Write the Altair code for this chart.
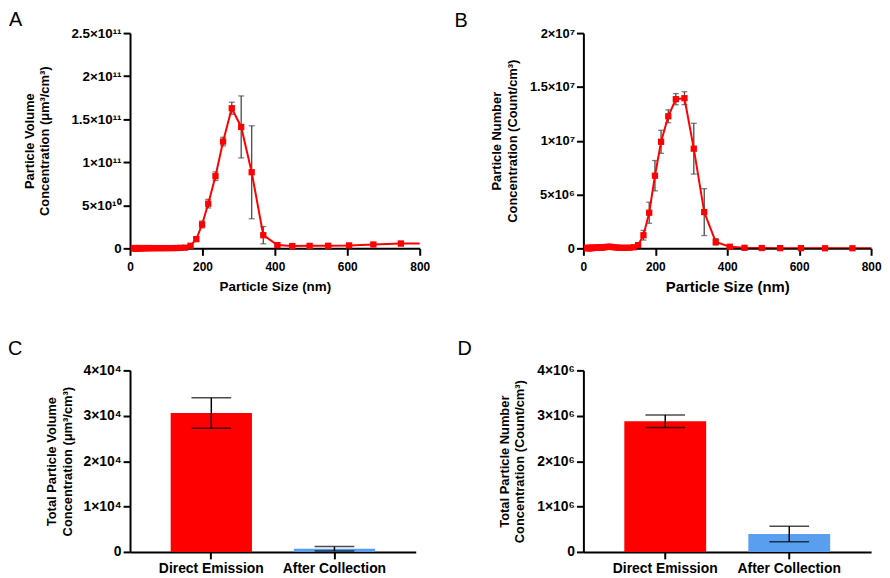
import altair as alt
import pandas as pd

# ---------------- data ----------------
sizes_nm = [10.5, 11.5, 12.5, 13.6, 14.8, 16.2, 17.6, 19.2, 20.9, 22.8, 24.9, 27.1,
            29.6, 32.2, 35.1, 38.3, 41.7, 45.5, 49.6, 54.0, 58.9, 64.2, 70.0, 76.3,
            83.2, 90.7, 98.8, 107.7, 117.4, 128.0, 139.5,
            152, 167, 183, 199, 216, 236, 257, 281, 307, 336, 368, 407, 448, 496,
            547, 605, 672, 748, 830]

volume_conc = [2e8, 2e8, 3e8, 3e8, 3e8, 2e8, 2e8, 2e8, 3e8, 3e8, 3e8, 3e8,
               2e8, 2e8, 2e8, 3e8, 3e8, 3e8, 3e8, 3e8, 3e8, 3e8, 3e8, 3e8,
               3e8, 3e8, 3e8, 3e8, 3e8, 4e8, 6e8,
               8e8, 3.0e9, 1.07e10, 2.77e10, 5.19e10, 8.38e10, 1.24e11, 1.627e11,
               1.41e11, 8.84e10, 1.53e10, 3.8e9, 2.7e9, 2.9e9, 3.0e9, 3.4e9, 4.5e9,
               5.6e9, 5.7e9]
volume_sd = [0] * 31 + [3e8, 1e9, 2e9, 4e9, 5e9, 5e9, 5e9, 7e9, 3.6e10, 5.4e10,
                        1e10, 1e9, 1e9, 1e9, 1e9, 1e9, 1e9, 2.5e9, 0]

number_conc = [3e4, 3e4, 3e4, 3e4, 3e4, 3e4, 3e4, 3e4, 3e4, 4e4, 4e4, 4e4,
               4e4, 5e4, 5e4, 6e4, 6e4, 7e4, 8e4, 9e4, 1.1e5, 1.3e5, 1.5e5, 1.4e5,
               1.1e5, 8e4, 6e4, 5e4, 5e4, 6e4, 1e5,
               3e5, 1.22e6, 3.31e6, 6.75e6, 9.9e6, 1.227e7, 1.386e7, 1.395e7,
               9.26e6, 3.37e6, 6e5, 1.5e5, 5e4, 3e4, 2e4, 2e4, 1e4, 1e4, 1e4]
number_sd = [0] * 31 + [1.5e5, 4.5e5, 9.8e5, 1.41e6, 1.07e6, 6e5, 5.2e5, 6e5, 2.36e6,
                        2.18e6, 3e5, 5e4, 0, 0, 0, 0, 0, 0, 0]

groups = ["Direct Emission", "After Collection"]
total_volume = [3.06e4, 700]
total_volume_sd = [3.35e3, 480]
total_number = [2.877e6, 3.94e5]
total_number_sd = [1.38e5, 1.7e5]

x_ticks = [0, 200, 400, 600, 800]
vol_ticks = [0, 5e10, 1e11, 1.5e11, 2e11, 2.5e11]
vol_labels = ["0", "5×10¹⁰", "1×10¹¹", "1.5×10¹¹", "2×10¹¹", "2.5×10¹¹"]
num_ticks = [0, 5e6, 1e7, 1.5e7, 2e7]
num_labels = ["0", "5×10⁶", "1×10⁷", "1.5×10⁷", "2×10⁷"]
tvol_ticks = [0, 1e4, 2e4, 3e4, 4e4]
tvol_labels = ["0", "1×10⁴", "2×10⁴", "3×10⁴", "4×10⁴"]
tnum_ticks = [0, 1e6, 2e6, 3e6, 4e6]
tnum_labels = ["0", "1×10⁶", "2×10⁶", "3×10⁶", "4×10⁶"]

RED = "#FF0000"
BLUE = "#5A9EF0"
FONT = "Liberation Sans"

dist = pd.DataFrame({"size": sizes_nm, "vol": volume_conc, "vol_sd": volume_sd,
                     "num": number_conc, "num_sd": number_sd})
bars = pd.DataFrame({"group": groups, "vol": total_volume, "vol_sd": total_volume_sd,
                     "num": total_number, "num_sd": total_number_sd})


def label_expr(values, labels):
    tol = max(values) * 1e-6
    expr = "''"
    for v, l in reversed(list(zip(values, labels))):
        expr = f"abs(datum.value - {float(v)!r}) < {tol!r} ? '{l}' : ({expr})"
    return expr


def letter_title(letter, dx, offset):
    return alt.TitleParams(letter, anchor="start", frame="group", dx=dx, offset=offset,
                           fontSize=20, font=FONT, fontWeight="normal", color="black")


def dist_panel(val, sd, ymax, yticks, ylabels, ytitle, title_pad, xtitle_size, ylab_size,
               letter, width, height, ldx, loff):
    xenc = alt.X("size:Q", scale=alt.Scale(domain=[0, 800], nice=False, zero=False),
                 axis=alt.Axis(values=x_ticks, format="d", title="Particle Size (nm)",
                               titleFontSize=xtitle_size))
    yaxis = alt.Axis(values=yticks, labelExpr=label_expr(yticks, ylabels), title=ytitle,
                     titlePadding=title_pad, labelFontSize=ylab_size)
    yscale = alt.Scale(domain=[0, ymax], nice=False)
    base = alt.Chart(dist)
    errs = base.transform_filter(f"datum.{sd} > 0").transform_calculate(
        lo=f"datum.{val} - datum.{sd}", hi=f"datum.{val} + datum.{sd}")
    rule = errs.mark_rule(color="#4a4a4a", strokeWidth=1.3).encode(
        x=xenc, y=alt.Y("lo:Q", scale=yscale, axis=yaxis), y2="hi:Q")
    cap_lo = errs.mark_tick(orient="horizontal", size=6, thickness=1.3, color="#4a4a4a").encode(
        x=xenc, y=alt.Y("lo:Q", scale=yscale, axis=yaxis))
    cap_hi = errs.mark_tick(orient="horizontal", size=6, thickness=1.3, color="#4a4a4a").encode(
        x=xenc, y=alt.Y("hi:Q", scale=yscale, axis=yaxis))
    line = base.mark_line(color=RED, strokeWidth=2, clip=True).encode(
        x=xenc, y=alt.Y(f"{val}:Q", scale=yscale, axis=yaxis))
    pts = base.transform_filter("datum.size <= 800").mark_square(
        size=40, color=RED, opacity=1).encode(
        x=xenc, y=alt.Y(f"{val}:Q", scale=yscale, axis=yaxis))
    return alt.layer(rule, cap_lo, cap_hi, line, pts).properties(
        width=width, height=height, title=letter_title(letter, ldx, loff))


def bar_panel(val, sd, ymax, yticks, ylabels, ytitle, title_pad, letter, width, height,
              ldx, loff):
    xenc = alt.X("group:N", sort=groups,
                 scale=alt.Scale(paddingInner=0.34, paddingOuter=0.33),
                 axis=alt.Axis(title=None, labelAngle=0, labelFontSize=14, labelPadding=3,
                               labelFlush=False))
    yaxis = alt.Axis(values=yticks, labelExpr=label_expr(yticks, ylabels), title=ytitle,
                     titlePadding=title_pad, labelFontSize=14)
    yscale = alt.Scale(domain=[0, ymax], nice=False)
    base = alt.Chart(bars)
    bar = base.mark_bar().encode(
        x=xenc, y=alt.Y(f"{val}:Q", scale=yscale, axis=yaxis),
        color=alt.Color("group:N", scale=alt.Scale(domain=groups, range=[RED, BLUE]),
                        legend=None))
    errs = base.transform_calculate(lo=f"datum.{val} - datum.{sd}",
                                    hi=f"datum.{val} + datum.{sd}")
    rule = errs.mark_rule(color="black", strokeWidth=1.5).encode(
        x=xenc, y=alt.Y("lo:Q", scale=yscale, axis=yaxis), y2="hi:Q")
    cap_lo = errs.mark_tick(orient="horizontal", size=40, thickness=1.5, color="black").encode(
        x=xenc, y=alt.Y("lo:Q", scale=yscale, axis=yaxis))
    cap_hi = errs.mark_tick(orient="horizontal", size=40, thickness=1.5, color="black").encode(
        x=xenc, y=alt.Y("hi:Q", scale=yscale, axis=yaxis))
    return alt.layer(bar, rule, cap_lo, cap_hi).properties(
        width=width, height=height, title=letter_title(letter, ldx, loff))


pA = dist_panel("vol", "vol_sd", 2.5e11, vol_ticks, vol_labels,
                ["Particle Volume", "Concentration (μm³/cm³)"], 19, 13.5, 13.5,
                "A", 292, 217, -122, -4)
pB = dist_panel("num", "num_sd", 2e7, num_ticks, num_labels,
                ["Particle Number", "Concentration (Count/cm³)"], 10, 15, 13,
                "B", 290, 217, -130, -4)
pC = bar_panel("vol", "vol_sd", 4e4, tvol_ticks, tvol_labels,
               ["Total Particle Volume", "Concentration (μm³/cm³)"], 9, "C", 288, 183, -123, 4)
pD = bar_panel("num", "num_sd", 4e6, tnum_ticks, tnum_labels,
               ["Total Particle Number", "Concentration (Count/cm³)"], 10, "D", 290, 183, -127, 4)

chart = alt.concat(pA, pB, pC, pD, columns=2, bounds="flush",
                   spacing=alt.RowColnumber(row=123, column=165)).properties(
    padding=0, background="white"
).configure_view(stroke=None).configure_axis(
    domainColor="black", domainWidth=2, tickColor="black", tickWidth=2, tickSize=7,
    labelFont=FONT, labelFontWeight="bold", labelColor="black", labelFlush=False,
    titleFont=FONT, titleFontWeight="bold", titleColor="black", titleFontSize=13,
    titleLineHeight=16, grid=False
).configure_axisX(labelFontSize=12, labelPadding=6, titlePadding=7
).configure_axisY(labelPadding=2)

chart.save("out.html", embed_options={"renderer": "svg", "actions": False})
